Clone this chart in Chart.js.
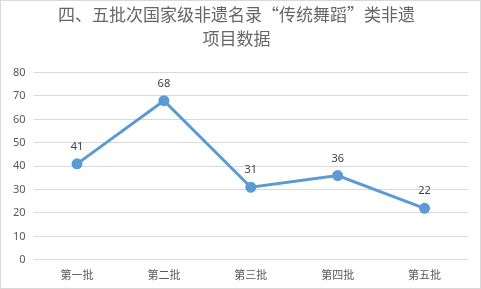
<!DOCTYPE html>
<html>
<head>
<meta charset="utf-8">
<script src="https://cdn.jsdelivr.net/npm/chart.js@4/dist/chart.umd.min.js"></script>
<style>
html,body{margin:0;padding:0;background:#fff;}
#wrap{position:absolute;left:0;top:0;width:479px;height:287px;border:1px solid #d9d9d9;}
canvas{display:block;}
</style>
</head>
<body>
<div id="wrap"><canvas id="c" width="479" height="287"></canvas></div>
<script>
const categories = ['第一批','第二批','第三批','第四批','第五批'];
const values = [41, 68, 31, 36, 22];
const yTicks = [0, 80, 10];

const labelPlugin = {
  id: 'valueLabels',
  afterDatasetsDraw(chart) {
    const ctx = chart.ctx;
    const meta = chart.getDatasetMeta(0);
    ctx.save();
    ctx.font = '11px "Noto Sans", "DejaVu Sans", sans-serif';
    ctx.fillStyle = '#404040';
    ctx.textAlign = 'center';
    ctx.textBaseline = 'middle';
    meta.data.forEach((pt, i) => {
      ctx.fillText(String(chart.data.datasets[0].data[i]), pt.x, pt.y - 17);
    });
    ctx.restore();
  }
};

new Chart(document.getElementById('c'), {
  type: 'line',
  data: {
    labels: categories,
    datasets: [{
      data: values,
      borderColor: '#5B9BD5',
      backgroundColor: '#5B9BD5',
      borderWidth: 3,
      pointRadius: 4,
      pointHoverRadius: 4,
      tension: 0,
      fill: false
    }]
  },
  options: {
    responsive: false,
    animation: false,
    layout: { padding: { left: 4, right: 12, top: 2, bottom: 7 } },
    plugins: {
      legend: { display: false },
      tooltip: { enabled: false },
      title: {
        display: true,
        text: ['四、五批次国家级非遗名录“传统舞蹈”类非遗', '项目数据'],
        color: '#666666',
        font: { family: '"Noto Sans CJK SC", sans-serif', size: 17, weight: 'normal', lineHeight: 1.4 },
        padding: { top: 0, bottom: 22 }
      }
    },
    scales: {
      x: {
        offset: true,
        grid: { display: false },
        border: { display: false },
        ticks: { color: '#595959', font: { family: '"Noto Sans CJK SC", sans-serif', size: 11 }, padding: 0 }
      },
      y: {
        min: yTicks[0], max: yTicks[1],
        ticks: { stepSize: yTicks[2], color: '#595959', font: { family: '"Noto Sans", "DejaVu Sans", sans-serif', size: 11 }, padding: 8 },
        grid: { color: '#d9d9d9', lineWidth: 1, drawTicks: false },
        border: { display: false }
      }
    }
  },
  plugins: [labelPlugin]
});
</script>
</body>
</html>
